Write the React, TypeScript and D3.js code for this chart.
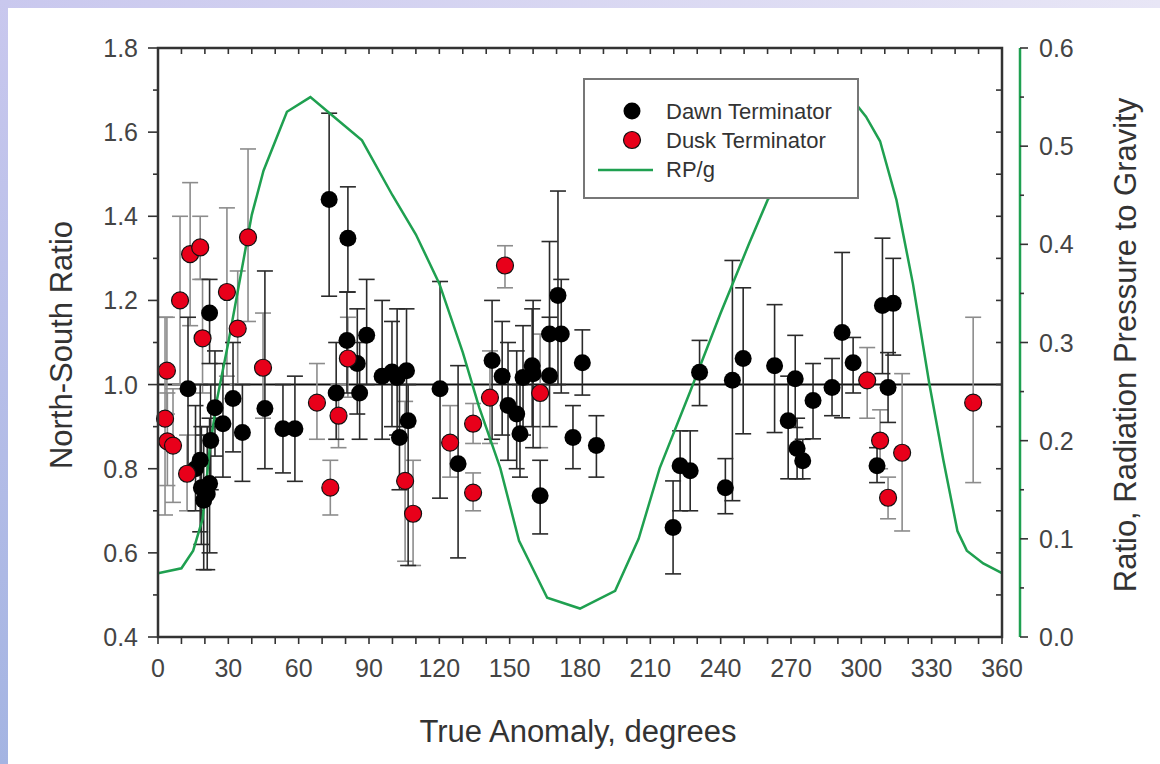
import React from "react";
import * as d3 from "d3";

// ---------- DATA ----------
const xTicks = [0, 30, 60, 90, 120, 150, 180, 210, 240, 270, 300, 330, 360];
const yTicksLeft = [0.4, 0.6, 0.8, 1.0, 1.2, 1.4, 1.6, 1.8];
const yTicksRight = [0.0, 0.1, 0.2, 0.3, 0.4, 0.5, 0.6];

// Dawn terminator: angle, ratio, lower bound, upper bound
const dawnAngle = [12.8, 16, 18, 18.5, 19.5, 21, 22, 22, 22.5, 24.3, 27.7, 32, 36, 45.6, 53.3, 58.4, 73, 76, 81, 80.6, 85, 86, 89, 95.6, 99.8, 102, 106, 103, 106.7, 120.3, 128, 142.5, 146.8, 149.3, 153, 154.4, 155.7, 159.6, 160, 167, 167, 172, 170.6, 163, 177, 181, 187, 219.7, 222.7, 227, 231, 242, 245, 249.6, 263, 268.8, 271.8, 272.6, 275, 279.4, 287.5, 291.8, 296.5, 306.7, 309, 311.4, 313.6];
const dawnRatio = [0.99, 0.8, 0.82, 0.755, 0.725, 0.74, 0.765, 1.17, 0.867, 0.945, 0.907, 0.967, 0.886, 0.943, 0.895, 0.895, 1.44, 0.98, 1.348, 1.105, 1.05, 0.98, 1.117, 1.02, 1.03, 1.017, 1.033, 0.874, 0.914, 0.99, 0.812, 1.057, 1.02, 0.95, 0.93, 0.883, 1.017, 1.045, 1.026, 1.021, 1.12, 1.12, 1.212, 0.736, 0.874, 1.052, 0.855, 0.66, 0.807, 0.795, 1.029, 0.755, 1.01, 1.062, 1.045, 0.914, 1.014, 0.848, 0.819, 0.962, 0.993, 1.124, 1.052, 0.807, 1.188, 0.993, 1.193];
const dawnLow = [0.8, 0.7, 0.65, 0.62, 0.56, 0.56, 0.6, 1.05, 0.75, 0.83, 0.78, 0.84, 0.77, 0.8, 0.79, 0.77, 1.21, 0.87, 1.22, 0.98, 0.93, 0.87, 1.0, 0.87, 0.9, 0.88, 0.9, 0.75, 0.57, 0.73, 0.588, 0.87, 0.88, 0.82, 0.8, 0.78, 0.88, 0.9, 0.85, 0.9, 1.0, 0.98, 1.0, 0.645, 0.8, 0.975, 0.78, 0.55, 0.7, 0.7, 0.95, 0.693, 0.724, 0.883, 0.886, 0.776, 0.898, 0.776, 0.776, 0.871, 0.926, 0.921, 0.98, 0.767, 1.026, 0.91, 1.07];
const dawnHigh = [1.16, 0.95, 1.0, 0.9, 0.88, 0.9, 0.92, 1.25, 1.0, 1.08, 1.05, 1.1, 1.0, 1.27, 1.0, 1.02, 1.645, 1.1, 1.47, 1.22, 1.18, 1.1, 1.25, 1.2, 1.15, 1.18, 1.18, 1.0, 1.0, 1.245, 1.045, 1.2, 1.15, 1.1, 1.08, 1.0, 1.14, 1.18, 1.2, 1.16, 1.34, 1.25, 1.46, 0.82, 0.95, 1.13, 0.926, 0.771, 0.89, 0.89, 1.105, 0.824, 1.295, 1.23, 1.19, 1.02, 1.117, 0.92, 0.87, 1.05, 1.062, 1.314, 1.112, 0.85, 1.348, 1.076, 1.3];

// Dusk terminator: angle, ratio, lower bound, upper bound
const duskAngle = [3, 3.8, 4, 6.4, 9.4, 12.4, 13.7, 18, 19, 29.4, 34, 38.4, 44.8, 67.8, 73.5, 77, 81, 105.4, 108.8, 124.6, 134.4, 134.4, 141.6, 148, 163, 302.5, 308, 311.4, 317.4, 347.7];
const duskRatio = [0.919, 1.033, 0.865, 0.855, 1.2, 0.788, 1.31, 1.326, 1.11, 1.22, 1.133, 1.35, 1.04, 0.957, 0.755, 0.926, 1.062, 0.771, 0.693, 0.862, 0.907, 0.743, 0.969, 1.283, 0.98, 1.01, 0.867, 0.731, 0.838, 0.957];
const duskLow = [0.69, 0.93, 0.76, 0.72, 1.0, 0.7, 1.14, 1.25, 0.98, 1.02, 1.0, 1.15, 0.92, 0.87, 0.69, 0.85, 0.97, 0.58, 0.57, 0.78, 0.86, 0.7, 0.86, 1.23, 0.85, 0.92, 0.8, 0.681, 0.652, 0.767];
const duskHigh = [1.16, 1.16, 0.98, 0.99, 1.4, 0.88, 1.48, 1.4, 1.25, 1.42, 1.27, 1.56, 1.17, 1.05, 0.82, 1.0, 1.16, 0.96, 0.82, 0.95, 0.955, 0.79, 1.08, 1.33, 1.12, 1.088, 0.94, 0.78, 1.026, 1.16];

// RP/g curve (right axis)
const rpAngle = [0, 10, 15, 19, 22, 25, 30, 35, 40, 45, 50, 55, 65, 75, 87, 100, 110, 120, 130, 137, 146, 154, 166, 180, 195, 205, 214, 227, 240, 252, 260, 270, 280, 290, 297, 302, 308, 315, 322, 329, 335, 341, 345, 352, 360];
const rpValue = [0.065, 0.07, 0.088, 0.12, 0.19, 0.24, 0.3, 0.365, 0.43, 0.475, 0.505, 0.535, 0.55, 0.53, 0.506, 0.45, 0.41, 0.36, 0.29, 0.234, 0.172, 0.098, 0.04, 0.029, 0.047, 0.1, 0.172, 0.25, 0.33, 0.4, 0.445, 0.48, 0.51, 0.535, 0.545, 0.53, 0.505, 0.445, 0.36, 0.258, 0.18, 0.108, 0.088, 0.075, 0.065];

const legendLabels = ["Dawn Terminator", "Dusk Terminator", "RP/g"];

// ---------- LAYOUT ----------
const W = 1160, H = 764;
const L = 158, R = 1002, T = 48, B = 637;
const RAX = 1020;
const FONT = "'Liberation Sans', Arial, sans-serif";
const GREEN = "#1fa050";

export default function App() {
  const x = d3.scaleLinear().domain([0, 360]).range([L, R]);
  const y = d3.scaleLinear().domain([0.4, 1.8]).range([B, T]);
  const y2 = d3.scaleLinear().domain([0, 0.6]).range([B, T]);

  const line = d3.line<number>().x((_, i) => x(rpAngle[i])).y((v) => y2(v));
  const rpPath = line(rpValue) || "";

  const minorX = d3.range(0, 361, 10);
  const minorY = d3.range(0.4, 1.8001, 0.1);
  const minorY2 = d3.range(0, 0.6001, 0.05);

  const cap = 8;
  const rad = 8.5;

  const errBars = (ang: number[], val: number[], lo: number[], hi: number[], color: string, key: string) =>
    ang.map((a, i) => {
      const cx = x(a);
      return (
        <g key={key + i} stroke={color} strokeWidth={1.6}>
          <line x1={cx} x2={cx} y1={y(lo[i])} y2={y(hi[i])} />
          <line x1={cx - cap} x2={cx + cap} y1={y(lo[i])} y2={y(lo[i])} />
          <line x1={cx - cap} x2={cx + cap} y1={y(hi[i])} y2={y(hi[i])} />
        </g>
      );
    });

  return (
    <svg width={W} height={H} style={{ position: "absolute", left: 0, top: 0, background: "#fff" }} fontFamily={FONT}>
      <defs>
        <linearGradient id="topg" x1="0" x2="1" y1="0" y2="0">
          <stop offset="0" stopColor="#c9c8ee" />
          <stop offset="1" stopColor="#e8e6f6" />
        </linearGradient>
        <linearGradient id="leftg" x1="0" x2="0" y1="0" y2="1">
          <stop offset="0" stopColor="#c9c8ee" />
          <stop offset="1" stopColor="#a4b4e2" />
        </linearGradient>
      </defs>
      <rect x={0} y={0} width={W} height={H} fill="#fff" />
      <rect x={0} y={0} width={W} height={8} fill="url(#topg)" />
      <rect x={0} y={0} width={8} height={H} fill="url(#leftg)" />

      {/* reference line at 1.0 */}
      <line x1={L} x2={R} y1={y(1)} y2={y(1)} stroke="#111" strokeWidth={2} />

      {/* error bars */}
      {errBars(duskAngle, duskRatio, duskLow, duskHigh, "#8c8c8c", "de")}
      {errBars(dawnAngle, dawnRatio, dawnLow, dawnHigh, "#2a2a2a", "ae")}

      {/* RP/g line */}
      <path d={rpPath} fill="none" stroke={GREEN} strokeWidth={2.5} />

      {/* points */}
      {dawnAngle.map((a, i) => (
        <circle key={"a" + i} cx={x(a)} cy={y(dawnRatio[i])} r={rad} fill="#000" />
      ))}
      {duskAngle.map((a, i) => (
        <circle key={"d" + i} cx={x(a)} cy={y(duskRatio[i])} r={rad} fill="#e8001a" stroke="#111" strokeWidth={1.2} />
      ))}

      {/* frame */}
      <rect x={L} y={T} width={R - L} height={B - T} fill="none" stroke="#333" strokeWidth={2.5} />

      {/* bottom ticks (outward) & top ticks (inward) */}
      {minorX.map((v) => (
        <g key={"xt" + v} stroke="#333" strokeWidth={1.6}>
          <line x1={x(v)} x2={x(v)} y1={B} y2={B + 7} />
          <line x1={x(v)} x2={x(v)} y1={T} y2={T + 6} />
        </g>
      ))}
      {xTicks.map((v) => (
        <text key={"xl" + v} x={x(v)} y={B + 40} textAnchor="middle" fontSize={25} fill="#444">
          {v}
        </text>
      ))}

      {/* left ticks (outward) & right frame ticks (inward) */}
      {minorY.map((v, i) => (
        <g key={"yt" + i} stroke="#333" strokeWidth={1.6}>
          <line x1={L} x2={L - (i % 2 === 0 ? 10 : 5)} y1={y(v)} y2={y(v)} />
          <line x1={R} x2={R - 6} y1={y(v)} y2={y(v)} />
        </g>
      ))}
      {yTicksLeft.map((v) => (
        <text key={"yl" + v} x={138} y={y(v) + 9} textAnchor="end" fontSize={25} fill="#444">
          {v.toFixed(1)}
        </text>
      ))}

      {/* right axis */}
      <line x1={RAX} x2={RAX} y1={T} y2={B} stroke={GREEN} strokeWidth={2.5} />
      {minorY2.map((v, i) => (
        <line key={"rt" + i} x1={RAX} x2={RAX + (i % 2 === 0 ? 8 : 4)} y1={y2(v)} y2={y2(v)} stroke="#333" strokeWidth={1.6} />
      ))}
      {yTicksRight.map((v) => (
        <text key={"rl" + v} x={RAX + 19} y={y2(v) + 9} textAnchor="start" fontSize={25} fill="#444">
          {v.toFixed(1)}
        </text>
      ))}

      {/* axis titles */}
      <text x={578} y={742} textAnchor="middle" fontSize={31} fill="#333">
        True Anomaly, degrees
      </text>
      <text transform={`translate(72,${345}) rotate(-90)`} textAnchor="middle" fontSize={31} fill="#333">
        North-South Ratio
      </text>
      <text transform={`translate(1136,${345}) rotate(-90)`} textAnchor="middle" fontSize={31} fill="#333">
        Ratio, Radiation Pressure to Gravity
      </text>

      {/* legend */}
      <g>
        <rect x={584} y={79} width={274} height={119} fill="#fff" stroke="#777" strokeWidth={2} />
        <circle cx={632} cy={111} r={rad} fill="#000" />
        <circle cx={632} cy={140} r={rad} fill="#e8001a" stroke="#111" strokeWidth={1.2} />
        <line x1={598} x2={653} y1={170} y2={170} stroke={GREEN} strokeWidth={2.5} />
        {legendLabels.map((t, i) => (
          <text key={t} x={666} y={119 + i * 29} fontSize={22} fill="#333">
            {t}
          </text>
        ))}
      </g>
    </svg>
  );
}
